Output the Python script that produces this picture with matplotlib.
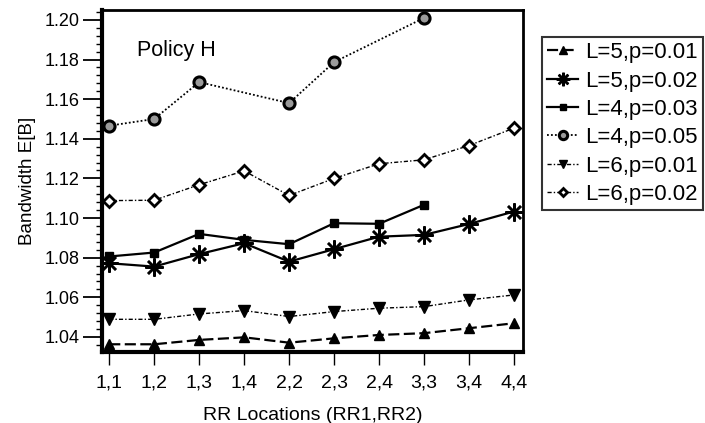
import numpy as np
import matplotlib
matplotlib.use("Agg")
import matplotlib.pyplot as plt
from matplotlib.ticker import MultipleLocator, FormatStrFormatter

plt.rcParams['font.family'] = ['Liberation Sans', 'DejaVu Sans']

locations = ["1,1", "1,2", "1,3", "1,4", "2,2", "2,3", "2,4", "3,3", "3,4", "4,4"]

l5_p001 = [1.0363, 1.0363, 1.0385, 1.0398, 1.0371, 1.0393, 1.0410, 1.0419, 1.0444, 1.0469]
l5_p002 = [1.0772, 1.0755, 1.0818, 1.0873, 1.0780, 1.0843, 1.0906, 1.0915, 1.0970, 1.1033]
l4_p003 = [1.0806, 1.0826, 1.0920, 1.0890, 1.0868, 1.0974, 1.0971, 1.1067, None, None]
l4_p005 = [1.1466, 1.1500, 1.1686, None, 1.1580, 1.1787, None, 1.2010, None, None]
l6_p001 = [1.0489, 1.0489, 1.0516, 1.0533, 1.0503, 1.0528, 1.0545, 1.0553, 1.0587, 1.0612]
l6_p002 = [1.1088, 1.1090, 1.1168, 1.1238, 1.1114, 1.1200, 1.1274, 1.1294, 1.1366, 1.1454]

labels = ["L=5,p=0.01", "L=5,p=0.02", "L=4,p=0.03", "L=4,p=0.05", "L=6,p=0.01", "L=6,p=0.02"]

fig = plt.figure(figsize=(7.05, 4.23), dpi=100)
ax = fig.add_axes([102/705, 1 - 352/423, (523 - 102)/705, (352 - 10)/423])

styles = [
    dict(linestyle=(0, (5, 2)), lw=1.6, marker='^', ms=7, mfc='black', mec='black'),
    dict(linestyle='-', lw=1.6, marker=(8, 2, 0), ms=13, mfc='black', mec='black', mew=1.8),
    dict(linestyle='-', lw=1.6, marker='s', ms=6, mfc='black', mec='black'),
    dict(linestyle=(0, (1, 1.2)), lw=1.3, marker='o', ms=8, mfc='#9a9a9a', mec='black', mew=2.2),
    dict(linestyle=(0, (3, 1.5, 1, 1.5)), lw=1.0, marker='v', ms=8, mfc='black', mec='black'),
    dict(linestyle=(0, (3, 1.5, 1, 1.5)), lw=1.0, marker='D', ms=6, mfc='white', mec='black', mew=2.0),
]

series = [l5_p001, l5_p002, l4_p003, l4_p005, l6_p001, l6_p002]
for vals, lab, st in zip(series, labels, styles):
    xs = [i for i, v in enumerate(vals) if v is not None]
    ys = [v for v in vals if v is not None]
    ax.plot(xs, ys, color='black', label=lab, **st)

ax.set_xlim(-0.16, 9.2)
ax.set_ylim(1.0324, 1.205)
ax.set_xticks(range(len(locations)))
ax.set_xticklabels(locations, fontsize=14)
ax.yaxis.set_major_locator(MultipleLocator(0.02))
ax.yaxis.set_minor_locator(MultipleLocator(0.004))
ax.yaxis.set_major_formatter(FormatStrFormatter('%.2f'))
ax.tick_params(axis='y', which='major', direction='out', length=14, width=1.3, labelsize=13, pad=2)
ax.tick_params(axis='y', which='minor', direction='out', length=4, width=1.0)
ax.tick_params(axis='x', which='major', direction='out', length=9, width=1.0, labelsize=14, pad=7)

for side in ['left', 'bottom']:
    ax.spines[side].set_linewidth(3.0)
for side in ['top', 'right']:
    ax.spines[side].set_linewidth(2.0)

ax.set_ylabel("Bandwidth E[B]", fontsize=13.5, labelpad=6)
ax.set_xlabel("RR Locations (RR1,RR2)", fontsize=14, labelpad=11)
ax.text(0.083, 0.883, "Policy H", transform=ax.transAxes, fontsize=15.5, va='center', ha='left')

leg = fig.legend(loc='upper left', bbox_to_anchor=(541.7/705, 1 - 36.7/423),
                 fontsize=16, frameon=True, fancybox=False, edgecolor='black',
                 handlelength=1.4, handletextpad=0.3, borderpad=0.25, labelspacing=0.33,
                 borderaxespad=0.0, markerscale=0.75)
leg.get_frame().set_linewidth(1.5)

fig.savefig("out.png", dpi=100)
